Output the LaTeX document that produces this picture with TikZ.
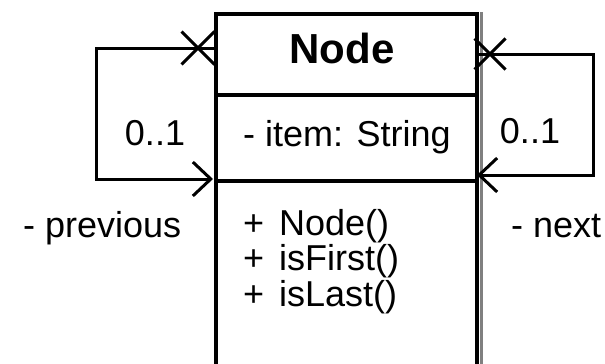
\documentclass[tikz,border=0pt]{standalone}
\usepackage{fontspec}
\setmainfont{Liberation Sans}
\usetikzlibrary{arrows.meta,shapes.misc}
\tikzset{
  classbox/.style={draw,line width=3.5pt,minimum width=261pt,minimum height=380pt,inner sep=0pt,anchor=north west},
  sepline/.style={line width=3.5pt},
  link/.style={line width=3pt,-{Straight Barb[length=18pt,width=34pt]}},
  xmark/.style={cross out,draw,line width=3pt,minimum size=30pt,inner sep=0pt},
  lbl/.style={font=\fontsize{36}{36}\selectfont,inner sep=0pt}
}
\begin{document}
\begin{tikzpicture}[x=1pt,y=-1pt]
\useasboundingbox (0,0) rectangle (605,364);
\clip (0,0) rectangle (605,364);
\node[classbox] (cls) at (214,12) {};
\draw[gray,line width=3pt] ([xshift=3pt]cls.north east) -- ([xshift=3pt]cls.south east);
\draw[sepline] ([yshift=-83pt]cls.north west) -- ([yshift=-83pt]cls.north east);
\draw[sepline] ([yshift=-169pt]cls.north west) -- ([yshift=-169pt]cls.north east);
\node[inner sep=0pt,font=\bfseries\fontsize{42}{42}\selectfont,anchor=base] (title) at (342,63) {Node};
\node[lbl,anchor=base west] (item) at (243,146) {- item: String};
\node[lbl,anchor=base west] (op1) at (243,235) {+\hspace{15pt}Node()};
\node[lbl,anchor=base west] (op2) at (243,270) {+\hspace{15pt}isFirst()};
\node[lbl,anchor=base west] (op3) at (243,306) {+\hspace{15pt}isLast()};
\node[xmark] (prevX) at (198,48) {};
\node[xmark,minimum size=28pt] (nextX) at (490,54) {};
\coordinate (prevOut) at (214,48);
\coordinate (prevIn) at (213,179);
\coordinate (nextOut) at (477,54);
\coordinate (nextIn) at (477,175);
\draw[link] (prevOut) -- ++(-118,0) |- (prevIn);
\draw[link] (nextOut) -- ++(116,0) |- (nextIn);
\node[lbl,anchor=base] (prevMult) at (155,145) {0..1};
\node[lbl,anchor=base] (nextMult) at (530,143) {0..1};
\node[lbl,anchor=base west] (prevRole) at (23,237) {- previous};
\node[lbl,anchor=base west] (nextRole) at (511,237) {- next};
\end{tikzpicture}
\end{document}
